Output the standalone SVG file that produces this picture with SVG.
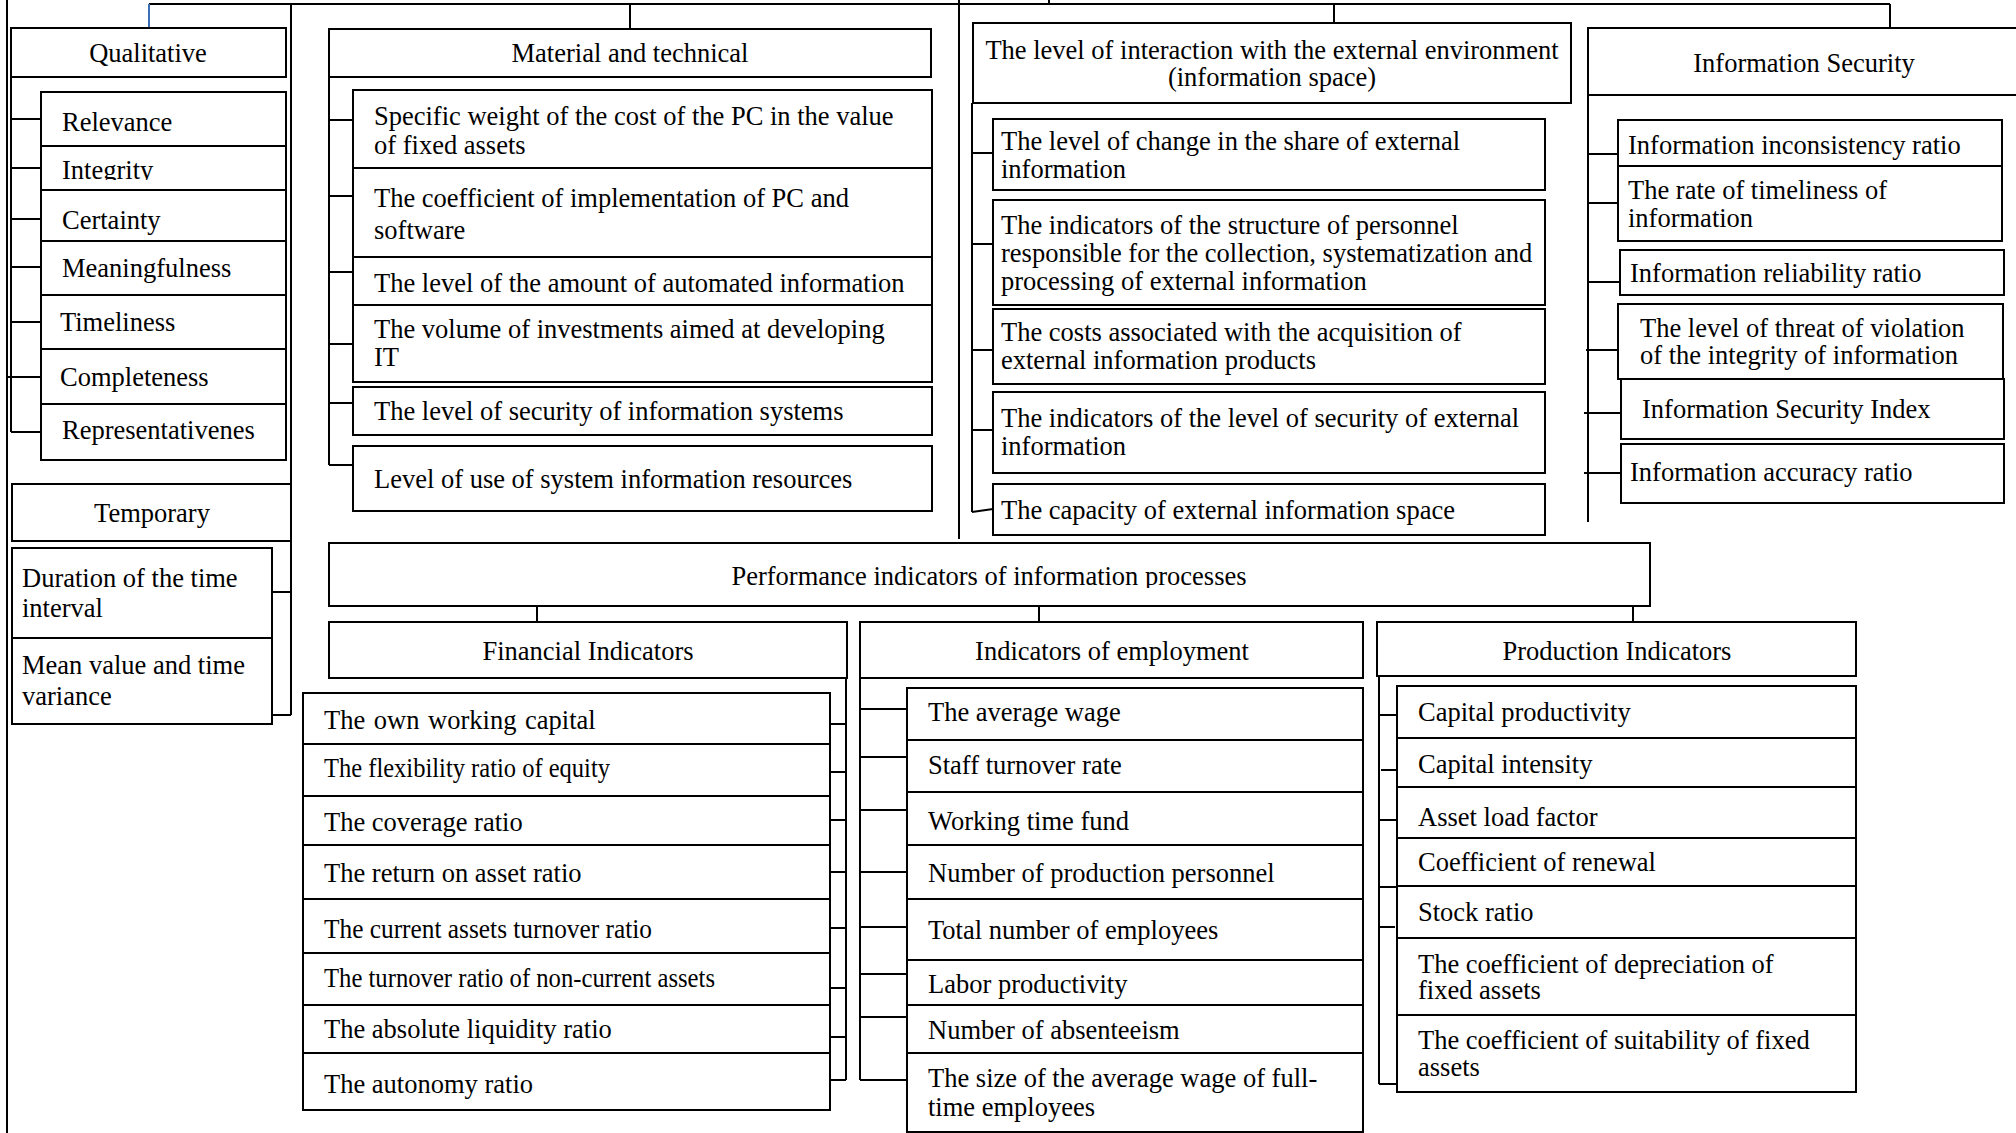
<svg xmlns="http://www.w3.org/2000/svg" width="2016" height="1133" viewBox="0 0 2016 1133">
<style>
.b{fill:#fff;stroke:#000;stroke-width:2}
.t{font-family:"Liberation Serif","Times New Roman",serif;font-size:26.5px;fill:#000}
.m{text-anchor:middle}
.ln{stroke:#000;stroke-width:2;fill:none}
</style>
<defs>
<clipPath id="clipInt"><rect x="41" y="146" width="245" height="34"/></clipPath>
<clipPath id="clipPerf"><rect x="329" y="543" width="1321" height="45"/></clipPath>
</defs>
<rect x="0" y="0" width="2016" height="1133" fill="#fff"/>
<g id="connectors">
<path class="ln" d="M7,0V1133"/>
<path class="ln" stroke-width="2.5" d="M149,4H1890"/>
<path d="M149,4V28" stroke="#3b6fb6" stroke-width="2" fill="none"/>
<path class="ln" d="M291,4V715M630,4V29M959,0V539M1049,0V4M1334,4V23M1890,4V32"/>
<path class="ln" d="M11,77V432M11,119H41M11,168H41M11,219H41M11,267H41M11,322H41M7,377H41M11,432H41"/>
<path class="ln" d="M272,592H291M272,715H291"/>
<path class="ln" d="M329,77V465M329,120H353M329,196H353M329,272H353M329,344H353M329,403H353M329,465H353"/>
<path class="ln" d="M972,103V512M972,153H993M972,244H993M972,350H993M972,430H993M972,512L993,509"/>
<path class="ln" d="M1588,55V522M1588,154H1618M1588,203H1618M1588,282H1620M1586,350H1618M1584,413H1621M1584,473H1621"/>
<path class="ln" d="M537,606V622M1039,606V622M1633,606V622"/>
<path class="ln" d="M846,678V1080M830,724H846M830,772H846M830,820H846M830,872H846M830,928H846M830,988H846M830,1037H846M830,1080H846"/>
<path class="ln" d="M860,678V1080M860,709H907M860,757H907M860,810H907M860,872H907M860,927H907M860,974H907M860,1017H907M860,1080H907"/>
<path class="ln" d="M1379,676V1084M1379,715H1397M1381,770H1397M1379,820H1397M1379,887H1397M1379,927H1395M1379,1084H1397"/>
</g>

<g id="qualitative"><rect class="b" x="11" y="28" width="275" height="49"/><text class="t m" x="148" y="62">Qualitative</text></g>
<g id="q-relevance"><rect class="b" x="41" y="92" width="245" height="54"/><text class="t" x="62" y="131">Relevance</text></g>
<g id="q-integrity"><rect class="b" x="41" y="146" width="245" height="44"/><text class="t" x="62" y="179" clip-path="url(#clipInt)">Integrity</text></g>
<g id="q-certainty"><rect class="b" x="41" y="190" width="245" height="51"/><text class="t" x="62" y="229">Certainty</text></g>
<g id="q-meaningfulness"><rect class="b" x="41" y="241" width="245" height="54"/><text class="t" x="62" y="277">Meaningfulness</text></g>
<g id="q-timeliness"><rect class="b" x="41" y="295" width="245" height="54"/><text class="t" x="60" y="331">Timeliness</text></g>
<g id="q-completeness"><rect class="b" x="41" y="349" width="245" height="55"/><text class="t" x="60" y="386">Completeness</text></g>
<g id="q-representativenes"><rect class="b" x="41" y="404" width="245" height="56"/><text class="t" x="62" y="439">Representativenes</text></g>

<g id="temporary"><rect class="b" x="12" y="484" width="279" height="57"/><text class="t m" x="152" y="522">Temporary</text></g>
<g id="t-duration"><rect class="b" x="12" y="548" width="260" height="90"/><text class="t" x="22" y="587">Duration of the time</text><text class="t" x="22" y="617">interval</text></g>
<g id="t-mean"><rect class="b" x="12" y="638" width="260" height="86"/><text class="t" x="22" y="674">Mean value and time</text><text class="t" x="22" y="705">variance</text></g>

<g id="material"><rect class="b" x="329" y="29" width="602" height="48"/><text class="t m" x="630" y="62">Material and technical</text></g>
<g id="m1"><rect class="b" x="353" y="90" width="579" height="78"/><text class="t" x="374" y="125">Specific weight of the cost of the PC in the value</text><text class="t" x="374" y="154">of fixed assets</text></g>
<g id="m2"><rect class="b" x="353" y="168" width="579" height="89"/><text class="t" x="374" y="207">The coefficient of implementation of PC and</text><text class="t" x="374" y="239">software</text></g>
<g id="m3"><rect class="b" x="353" y="257" width="579" height="48"/><text class="t" x="374" y="292">The level of the amount of automated information</text></g>
<g id="m4"><rect class="b" x="353" y="305" width="579" height="77"/><text class="t" x="374" y="338">The volume of investments aimed at developing</text><text class="t" x="374" y="366">IT</text></g>
<g id="m5"><rect class="b" x="353" y="387" width="579" height="48"/><text class="t" x="374" y="420">The level of security of information systems</text></g>
<g id="m6"><rect class="b" x="353" y="446" width="579" height="65"/><text class="t" x="374" y="488">Level of use of system information resources</text></g>

<g id="interaction"><rect class="b" x="973" y="23" width="598" height="80"/><text class="t m" x="1272" y="59">The level of interaction with the external environment</text><text class="t m" x="1272" y="86">(information space)</text></g>
<g id="e1"><rect class="b" x="993" y="119" width="552" height="71"/><text class="t" x="1001" y="150">The level of change in the share of external</text><text class="t" x="1001" y="178">information</text></g>
<g id="e2"><rect class="b" x="993" y="200" width="552" height="105"/><text class="t" x="1001" y="234">The indicators of the structure of personnel</text><text class="t" x="1001" y="262">responsible for the collection, systematization and</text><text class="t" x="1001" y="290">processing of external information</text></g>
<g id="e3"><rect class="b" x="993" y="309" width="552" height="75"/><text class="t" x="1001" y="341">The costs associated with the acquisition of</text><text class="t" x="1001" y="369">external information products</text></g>
<g id="e4"><rect class="b" x="993" y="392" width="552" height="81"/><text class="t" x="1001" y="427">The indicators of the level of security of external</text><text class="t" x="1001" y="455">information</text></g>
<g id="e5"><rect class="b" x="993" y="484" width="552" height="51"/><text class="t" x="1001" y="519">The capacity of external information space</text></g>

<g id="security"><rect class="b" x="1588" y="28" width="440" height="67"/><text class="t m" x="1804" y="72">Information Security</text></g>
<g id="s1"><rect class="b" x="1618" y="120" width="384" height="46"/><text class="t" x="1628" y="154">Information inconsistency ratio</text></g>
<g id="s2"><rect class="b" x="1618" y="166" width="384" height="75"/><text class="t" x="1628" y="199">The rate of timeliness of</text><text class="t" x="1628" y="227">information</text></g>
<g id="s3"><rect class="b" x="1620" y="250" width="384" height="45"/><text class="t" x="1630" y="282">Information reliability ratio</text></g>
<g id="s4"><rect class="b" x="1618" y="304" width="385" height="75"/><text class="t" x="1640" y="337">The level of threat of violation</text><text class="t" x="1640" y="364">of the integrity of information</text></g>
<g id="s5"><rect class="b" x="1621" y="379" width="383" height="60"/><text class="t" x="1642" y="418">Information Security Index</text></g>
<g id="s6"><rect class="b" x="1621" y="444" width="383" height="59"/><text class="t" x="1630" y="481">Information accuracy ratio</text></g>

<g id="performance"><rect class="b" x="329" y="543" width="1321" height="63"/><text class="t m" x="989" y="585" clip-path="url(#clipPerf)">Performance indicators of information processes</text></g>

<g id="financial"><rect class="b" x="329" y="622" width="518" height="56"/><text class="t m" x="588" y="660">Financial Indicators</text></g>
<g id="f1"><rect class="b" x="303" y="693" width="527" height="51"/><text class="t" x="324" y="729" word-spacing="2">The own working capital</text></g>
<g id="f2"><rect class="b" x="303" y="744" width="527" height="52"/><text class="t" x="324" y="777" textLength="286" lengthAdjust="spacingAndGlyphs">The flexibility ratio of equity</text></g>
<g id="f3"><rect class="b" x="303" y="796" width="527" height="49"/><text class="t" x="324" y="831">The coverage ratio</text></g>
<g id="f4"><rect class="b" x="303" y="845" width="527" height="54"/><text class="t" x="324" y="882">The return on asset ratio</text></g>
<g id="f5"><rect class="b" x="303" y="899" width="527" height="54"/><text class="t" x="324" y="938" textLength="328" lengthAdjust="spacingAndGlyphs">The current assets turnover ratio</text></g>
<g id="f6"><rect class="b" x="303" y="953" width="527" height="52"/><text class="t" x="324" y="987" textLength="391" lengthAdjust="spacingAndGlyphs">The turnover ratio of non-current assets</text></g>
<g id="f7"><rect class="b" x="303" y="1005" width="527" height="48"/><text class="t" x="324" y="1038">The absolute liquidity ratio</text></g>
<g id="f8"><rect class="b" x="303" y="1053" width="527" height="57"/><text class="t" x="324" y="1093">The autonomy ratio</text></g>

<g id="employment"><rect class="b" x="860" y="622" width="503" height="56"/><text class="t m" x="1112" y="660">Indicators of employment</text></g>
<g id="w1"><rect class="b" x="907" y="688" width="456" height="52"/><text class="t" x="928" y="721">The average wage</text></g>
<g id="w2"><rect class="b" x="907" y="740" width="456" height="52"/><text class="t" x="928" y="774">Staff turnover rate</text></g>
<g id="w3"><rect class="b" x="907" y="792" width="456" height="53"/><text class="t" x="928" y="830">Working time fund</text></g>
<g id="w4"><rect class="b" x="907" y="845" width="456" height="54"/><text class="t" x="928" y="882">Number of production personnel</text></g>
<g id="w5"><rect class="b" x="907" y="899" width="456" height="61"/><text class="t" x="928" y="939">Total number of employees</text></g>
<g id="w6"><rect class="b" x="907" y="960" width="456" height="45"/><text class="t" x="928" y="993">Labor productivity</text></g>
<g id="w7"><rect class="b" x="907" y="1005" width="456" height="48"/><text class="t" x="928" y="1039">Number of absenteeism</text></g>
<g id="w8"><rect class="b" x="907" y="1053" width="456" height="79"/><text class="t" x="928" y="1087">The size of the average wage of full-</text><text class="t" x="928" y="1116">time employees</text></g>

<g id="production"><rect class="b" x="1377" y="622" width="479" height="54"/><text class="t m" x="1617" y="660">Production Indicators</text></g>
<g id="p1"><rect class="b" x="1397" y="686" width="459" height="52"/><text class="t" x="1418" y="721">Capital productivity</text></g>
<g id="p2"><rect class="b" x="1397" y="738" width="459" height="49"/><text class="t" x="1418" y="773">Capital intensity</text></g>
<g id="p3"><rect class="b" x="1397" y="787" width="459" height="51"/><text class="t" x="1418" y="826">Asset load factor</text></g>
<g id="p4"><rect class="b" x="1397" y="838" width="459" height="48"/><text class="t" x="1418" y="871">Coefficient of renewal</text></g>
<g id="p5"><rect class="b" x="1397" y="886" width="459" height="52"/><text class="t" x="1418" y="921">Stock ratio</text></g>
<g id="p6"><rect class="b" x="1397" y="938" width="459" height="77"/><text class="t" x="1418" y="973">The coefficient of depreciation of</text><text class="t" x="1418" y="999">fixed assets</text></g>
<g id="p7"><rect class="b" x="1397" y="1015" width="459" height="77"/><text class="t" x="1418" y="1049">The coefficient of suitability of fixed</text><text class="t" x="1418" y="1076">assets</text></g>
</svg>
